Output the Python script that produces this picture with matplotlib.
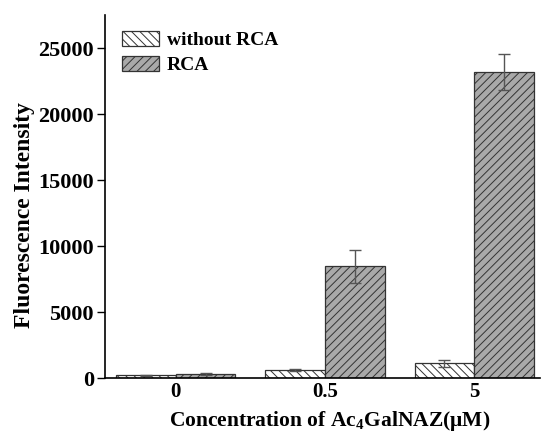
import numpy as np
import matplotlib
matplotlib.use("Agg")
import matplotlib.pyplot as plt

plt.rcParams['font.family'] = ['Liberation Serif', 'DejaVu Serif']
plt.rcParams['font.weight'] = 'bold'
plt.rcParams['hatch.linewidth'] = 0.7
plt.rcParams['mathtext.fontset'] = 'custom'
plt.rcParams['mathtext.rm'] = 'Liberation Serif:bold'
plt.rcParams['mathtext.bf'] = 'Liberation Serif:bold'

# data
categories = ['0', '0.5', '5']
without_rca = [200, 620, 1120]
without_err = [50, 90, 250]
rca = [270, 8480, 23200]
rca_err = [80, 1250, 1350]

fig = plt.figure(figsize=(5.52, 4.32), dpi=100)
ax = fig.add_axes([0.19, 0.125, 0.788, 0.84])

x = np.arange(len(categories))
w = 0.4
ax.bar(x - w/2, without_rca, w, color='white', edgecolor='#333333', linewidth=0.9,
       hatch='\\\\\\\\', label='without RCA')
ax.bar(x + w/2, rca, w, color='#a9a9a9', edgecolor='#333333', linewidth=0.9,
       hatch='////', label='RCA')
ax.errorbar(x - w/2, without_rca, yerr=without_err, fmt='none', ecolor='#555555',
            elinewidth=1, capsize=4, capthick=1)
ax.errorbar(x + w/2, rca, yerr=rca_err, fmt='none', ecolor='#555555',
            elinewidth=1, capsize=4, capthick=1)

ax.set_xlim(-0.475, 2.44)
ax.set_ylim(0, 27500)
ax.set_yticks([0, 5000, 10000, 15000, 20000, 25000])
ax.set_xticks(x)
ax.set_xticklabels(categories)
ax.tick_params(axis='y', direction='out', length=6, width=1, labelsize=16, pad=2)
ax.tick_params(axis='x', length=0, labelsize=15, pad=3)
for lab in ax.get_xticklabels() + ax.get_yticklabels():
    lab.set_fontweight('bold')

ax.spines['top'].set_visible(False)
ax.spines['right'].set_visible(False)
ax.spines['left'].set_linewidth(1.2)
ax.spines['bottom'].set_linewidth(1.2)

ax.set_ylabel('Fluorescence Intensity', fontsize=17, fontweight='bold')
ax.set_xlabel('Concentration of Ac$_4$GalNAZ(μM)', fontsize=15.5,
              fontweight='bold')
ax.yaxis.set_label_coords(-0.16, 0.45)
ax.xaxis.set_label_coords(0.517, -0.085)

ax.legend(loc='upper left', frameon=False, handlelength=1.9,
          handleheight=0.8, handletextpad=0.4, labelspacing=0.35,
          bbox_to_anchor=(0.0, 1.005), prop={'weight': 'bold', 'size': 14})

fig.savefig('out.png', dpi=100)
